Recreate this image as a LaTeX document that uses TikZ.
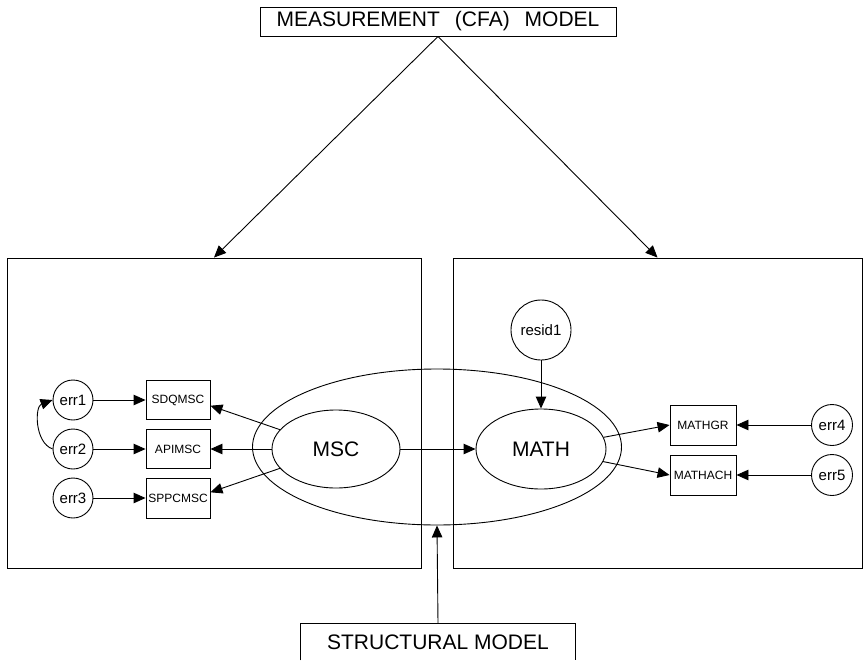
\documentclass[tikz,border=0pt]{standalone}
\usepackage{fontspec}
\setmainfont{Liberation Sans}
\usetikzlibrary{arrows.meta,shapes.geometric}
\begin{document}
\begin{tikzpicture}[x=1pt,y=-1pt,
  line width=0.9pt,
  arr/.style={-{Triangle[length=12pt,width=10.5pt]}},
  bigtxt/.style={font=\fontsize{21pt}{24pt}\selectfont},
  errc/.style={draw,circle,minimum size=40pt,inner sep=0pt,font=\fontsize{15pt}{17pt}\selectfont},
  obs/.style={draw,rectangle,minimum width=64pt,minimum height=39pt,inner sep=0pt,font=\fontsize{12pt}{14pt}\selectfont},
  obsr/.style={obs,minimum width=66pt,minimum height=40pt},
  lat/.style={draw,ellipse,inner sep=0pt,bigtxt},
  panel/.style={draw,rectangle,inner sep=0pt}
]
\useasboundingbox (0,0) rectangle (864,661);

% titles
\node[draw,rectangle,minimum width=356pt,minimum height=29pt,inner sep=0pt,bigtxt] (meas) at (438,21.5) {MEASUREMENT\hspace{15pt}(CFA)\hspace{15pt}MODEL};
\node[rectangle,minimum width=274pt,minimum height=36pt,inner sep=0pt,bigtxt] (struct) at (438,642) {STRUCTURAL MODEL};
\draw (struct.south west) |- (struct.north east) -- (struct.south east);

% panels
\node[panel,minimum width=414pt,minimum height=310pt] (lbox) at (214,413) {};
\node[panel,minimum width=409pt,minimum height=310pt] (rbox) at (657.5,413) {};

% outer ellipse
\node[draw,ellipse,minimum width=369pt,minimum height=156pt,inner sep=0pt] (outer) at (437,447) {};

% latent variables
\node[lat,minimum width=128pt,minimum height=78pt] (MSC) at (336,449) {MSC};
\node[lat,minimum width=130pt,minimum height=80pt] (MATH) at (541,449) {MATH};
\node[errc,minimum size=60pt] (resid1) at (541,330) {resid1};

% left observed
\node[obs] (SDQ) at (178,400) {SDQMSC};
\node[obs] (API) at (178,449) {APIMSC};
\node[obs,minimum height=40pt] (SPP) at (178,498) {SPPCMSC};
\node[errc] (err1) at (73,400) {err1};
\node[errc] (err2) at (73,449) {err2};
\node[errc] (err3) at (73,498) {err3};

% right observed
\node[obsr] (MGR) at (703,425) {MATHGR};
\node[obsr] (MACH) at (703,475) {MATHACH};
\node[errc,minimum size=41pt] (err4) at (832,425) {err4};
\node[errc,minimum size=41pt] (err5) at (832,475) {err5};

% connectors
\draw[arr] (meas.south) -- (lbox.north);
\draw[arr] (meas.south) -- (rbox.north);
\draw[arr] (struct.north) -- (outer.south);

\draw[arr] (MSC) -- (SDQ.-10);
\draw[arr] (MSC) -- (API.east);
\draw[arr] (MSC) -- (SPP.10);
\draw[arr] (err1) -- (SDQ);
\draw[arr] (err2) -- (API);
\draw[arr] (err3) -- (SPP);
\draw[arr] (err2.west) to[bend left=70] (err1.west);

\draw[arr] (MSC.east) -- (MATH.west);
\draw[arr] (resid1) -- (MATH);
\draw[arr] (MATH) -- (MGR.west);
\draw[arr] (MATH) -- (MACH.west);
\draw[arr] (err4) -- (MGR);
\draw[arr] (err5) -- (MACH);
\end{tikzpicture}
\end{document}
